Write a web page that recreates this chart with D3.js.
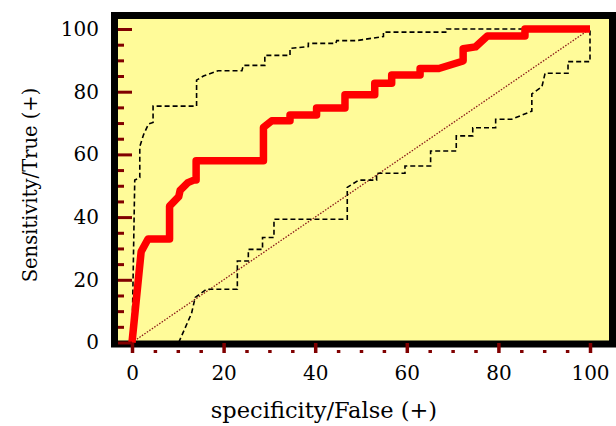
<!DOCTYPE html>
<html>
<head>
<meta charset="utf-8">
<script src="https://cdn.jsdelivr.net/npm/d3@7"></script>
<style>
  body { margin: 0; background: #fff; }
  text { font-family: "DejaVu Serif", serif; fill: #000; }
</style>
</head>
<body>
<div id="chart"></div>
<script>
// ROC curve (red)
var rocX = [0, 2, 3.5, 8.2, 8.2, 10.2, 10.5, 12.2, 13.5, 14, 14, 28.7, 28.7, 30.5, 34.5, 34.5, 40.3, 40.3, 46.5, 46.5, 53, 53, 56.7, 56.7, 62.9, 62.9, 67, 72.3, 72.3, 75, 77.6, 85.8, 85.8, 100];
var rocY = [0, 29, 33, 33, 43.5, 46.5, 48.5, 51, 51.8, 51.8, 58, 58, 68.6, 70.7, 70.7, 72.6, 72.6, 74.8, 74.8, 79, 79, 82.7, 82.7, 85.3, 85.3, 87.4, 87.4, 89.8, 93.7, 94.3, 97.8, 97.8, 100, 100];

// upper confidence band (dashed)
var upperX = [0, 0.6, 1.7, 1.7, 2.5, 3.6, 4.6, 4.6, 14.1, 14.1, 15.6, 18.8, 24, 24.3, 29, 29, 34.5, 34.5, 38.5, 38.5, 44.5, 44.7, 49, 54.9, 54.9, 68.7, 68.7, 100];
var upperY = [0, 51.8, 52.6, 62.5, 66.2, 69.7, 70.2, 75.4, 75.4, 83.7, 85, 86.7, 86.7, 88.4, 88.4, 91.6, 91.6, 93.8, 94.4, 95.4, 95.4, 96.3, 96.3, 97.6, 99, 99, 100, 100];

// lower confidence band (dashed)
var lowerX = [10.2, 13, 13.8, 16.3, 23, 23, 25.4, 25.4, 28.5, 28.5, 31, 31, 47, 47, 49.5, 53.4, 53.4, 59.6, 59.6, 65.2, 65.2, 70.8, 70.8, 74.4, 74.4, 79.4, 79.4, 82.9, 87.3, 87.3, 89.5, 90.2, 95.2, 95.2, 100, 100];
var lowerY = [0, 9.3, 14.4, 17, 17, 26, 26, 29.7, 29.7, 33.5, 33.5, 39.3, 39.3, 49.5, 51.8, 51.8, 54, 54, 56.3, 56.3, 61.1, 61.1, 65.9, 65.9, 68.5, 68.5, 71.2, 71.2, 73.8, 79.3, 81.6, 85.9, 85.9, 89.6, 89.6, 100];

// chance line
var diagX = [0, 100];
var diagY = [0, 100];

var majorTicks = [0, 20, 40, 60, 80, 100];
var minorTicks = d3.range(0, 101, 5).filter(d => d % 20 !== 0);

var svgWidth = 616;
var svgHeight = 426;

var svg = d3.select("#chart")
  .append("svg")
  .attr("width", svgWidth)
  .attr("height", svgHeight);

var x = d3.scaleLinear().domain([0, 100]).range([132, 590]);
var y = d3.scaleLinear().domain([0, 100]).range([342.5, 29]);

// frame
svg.append("rect")
  .attr("x", 114.5)
  .attr("y", 15.5)
  .attr("width", 498)
  .attr("height", 328.5)
  .attr("fill", "#fffb99")
  .attr("stroke", "#000")
  .attr("stroke-width", 7);

function zip(xs, ys) {
  return xs.map((d, i) => [d, ys[i]]);
}

var line = d3.line()
  .x(d => x(d[0]))
  .y(d => y(d[1]));

svg.append("path")
  .attr("d", line(zip(diagX, diagY)))
  .attr("fill", "none")
  .attr("stroke", "#8b1a1a")
  .attr("stroke-width", 1.3)
  .attr("stroke-dasharray", "1.5,1.5");

[zip(upperX, upperY), zip(lowerX, lowerY)].forEach(function(pts) {
  svg.append("path")
    .attr("d", line(pts))
    .attr("fill", "none")
    .attr("stroke", "#000")
    .attr("stroke-width", 1.6)
    .attr("stroke-dasharray", "5,3");
});

svg.append("path")
  .attr("d", line(zip(rocX, rocY)))
  .attr("fill", "none")
  .attr("stroke", "#ff0000")
  .attr("stroke-width", 7.5)
  .attr("stroke-linejoin", "round");

// y axis: ticks point into the plot
var yMajor = svg.append("g")
  .attr("transform", "translate(118,0)")
  .call(d3.axisLeft(y).tickValues(majorTicks).tickSize(-14).tickPadding(19));

var yMinor = svg.append("g")
  .attr("transform", "translate(118,0)")
  .call(d3.axisLeft(y).tickValues(minorTicks).tickSize(-6).tickFormat(""));

// x axis: below the frame, ticks point up
var xMajor = svg.append("g")
  .attr("transform", "translate(0,353)")
  .call(d3.axisBottom(x).tickValues(majorTicks).tickSize(-10).tickPadding(13));

var xMinor = svg.append("g")
  .attr("transform", "translate(0,353)")
  .call(d3.axisBottom(x).tickValues(minorTicks).tickSize(-3).tickFormat(""));

[yMajor, yMinor, xMajor, xMinor].forEach(function(g) {
  g.select(".domain").remove();
  g.selectAll("line").attr("stroke", "#800000").attr("stroke-width", 3);
});
[xMajor, xMinor].forEach(g => g.selectAll("line").attr("stroke-width", 3.5));

svg.selectAll(".tick text")
  .attr("font-family", "DejaVu Serif")
  .attr("font-size", 20)
  .attr("fill", "#000");

// axis titles
svg.append("text")
  .attr("x", 324)
  .attr("y", 418)
  .attr("text-anchor", "middle")
  .attr("font-size", 22.5)
  .text("specificity/False (+)");

svg.append("text")
  .attr("transform", "translate(37,185) rotate(-90)")
  .attr("text-anchor", "middle")
  .attr("font-size", 19.5)
  .text("Sensitivity/True (+)");
</script>
</body>
</html>
